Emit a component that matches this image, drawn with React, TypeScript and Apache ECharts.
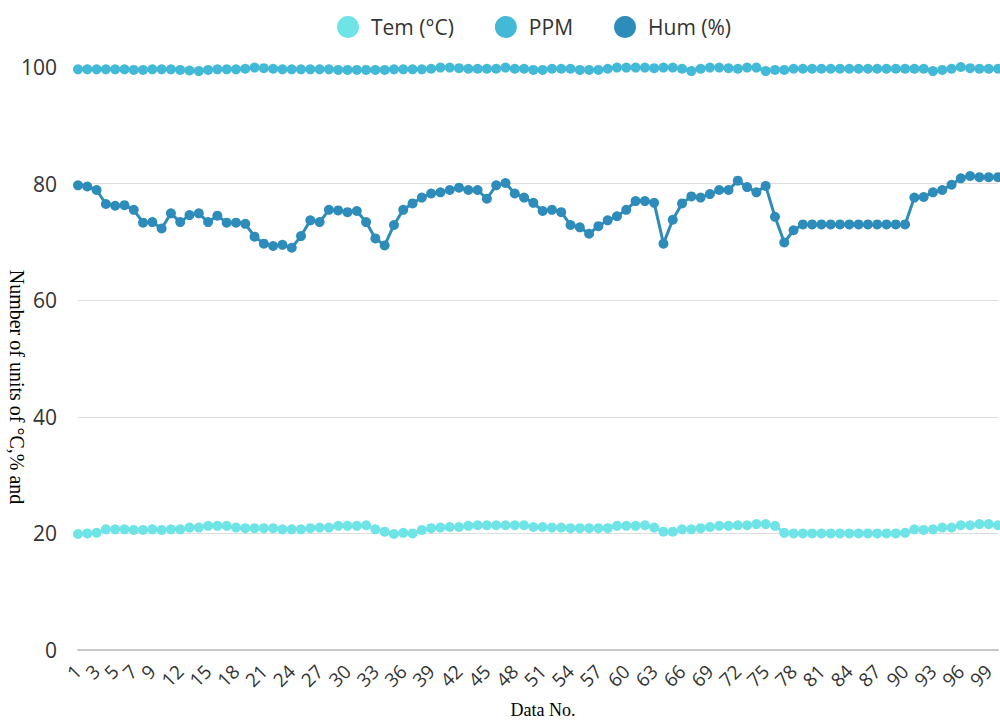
import React, { useEffect, useRef } from "react";
import * as echarts from "echarts";

const categories = [
  "1","2","3","4","5","6","7","8","9","10","11","12","13","14","15","16","17","18","19","20",
  "21","22","23","24","25","26","27","28","29","30","31","32","33","34","35","36","37","38","39","40",
  "41","42","43","44","45","46","47","48","49","50","51","52","53","54","55","56","57","58","59","60",
  "61","62","63","64","65","66","67","68","69","70","71","72","73","74","75","76","77","78","79","80",
  "81","82","83","84","85","86","87","88","89","90","91","92","93","94","95","96","97","98","99","100",
];

const shownLabels = [
  "1","3","5","7","9","12","15","18","21","24","27","30","33","36","39","42","45","48","51","54",
  "57","60","63","66","69","72","75","78","81","84","87","90","93","96","99",
];

const yTicks = [0, 20, 40, 60, 80, 100];

const tem = [
  19.9, 20.0, 20.1, 20.7, 20.7, 20.7, 20.6, 20.6, 20.7, 20.6,
  20.7, 20.7, 21.0, 21.0, 21.3, 21.3, 21.3, 21.0, 20.9, 20.9,
  20.9, 20.9, 20.7, 20.7, 20.7, 20.9, 21.0, 21.0, 21.3, 21.3,
  21.3, 21.4, 20.7, 20.3, 19.9, 20.1, 20.0, 20.6, 20.9, 21.0,
  21.1, 21.1, 21.3, 21.4, 21.4, 21.4, 21.4, 21.4, 21.4, 21.1,
  21.1, 21.0, 21.0, 20.9, 20.9, 20.9, 20.9, 20.9, 21.3, 21.3,
  21.3, 21.4, 21.0, 20.3, 20.3, 20.7, 20.7, 20.9, 21.1, 21.3,
  21.3, 21.4, 21.4, 21.6, 21.6, 21.3, 20.1, 20.0, 20.0, 20.0,
  20.0, 20.0, 20.0, 20.0, 20.0, 20.0, 20.0, 20.0, 20.0, 20.1,
  20.7, 20.6, 20.7, 21.0, 21.0, 21.4, 21.4, 21.6, 21.6, 21.4,
];

const ppm = [
  99.6, 99.6, 99.6, 99.6, 99.6, 99.6, 99.5, 99.5, 99.6, 99.6,
  99.6, 99.5, 99.4, 99.3, 99.5, 99.6, 99.6, 99.6, 99.7, 99.9,
  99.8, 99.7, 99.6, 99.6, 99.6, 99.6, 99.6, 99.6, 99.5, 99.5,
  99.5, 99.5, 99.5, 99.5, 99.6, 99.6, 99.6, 99.6, 99.7, 99.9,
  99.9, 99.8, 99.7, 99.7, 99.7, 99.7, 99.9, 99.7, 99.7, 99.5,
  99.5, 99.7, 99.7, 99.7, 99.5, 99.5, 99.5, 99.7, 99.9, 99.9,
  99.9, 99.9, 99.8, 99.9, 99.9, 99.7, 99.3, 99.7, 99.9, 99.9,
  99.8, 99.7, 99.9, 99.9, 99.3, 99.5, 99.5, 99.7, 99.7, 99.7,
  99.7, 99.7, 99.7, 99.7, 99.7, 99.7, 99.7, 99.7, 99.7, 99.7,
  99.7, 99.7, 99.3, 99.5, 99.7, 100.0, 99.8, 99.7, 99.7, 99.7,
];

const hum = [
  79.7, 79.5, 78.9, 76.5, 76.2, 76.3, 75.5, 73.3, 73.4, 72.3,
  74.9, 73.4, 74.6, 74.9, 73.4, 74.5, 73.3, 73.3, 73.1, 70.9,
  69.7, 69.3, 69.5, 69.0, 71.0, 73.7, 73.4, 75.5, 75.4, 75.1,
  75.3, 73.4, 70.6, 69.4, 72.9, 75.5, 76.6, 77.6, 78.3, 78.5,
  78.9, 79.3, 78.9, 78.9, 77.4, 79.7, 80.1, 78.3, 77.6, 76.7,
  75.3, 75.5, 75.1, 72.9, 72.5, 71.4, 72.7, 73.7, 74.4, 75.5,
  77.0, 77.0, 76.7, 69.7, 73.8, 76.6, 77.8, 77.6, 78.2, 78.9,
  78.9, 80.5, 79.4, 78.5, 79.6, 74.3, 69.9, 72.0, 73.0, 73.0,
  73.0, 73.0, 73.0, 73.0, 73.0, 73.0, 73.0, 73.0, 73.0, 73.0,
  77.6, 77.7, 78.5, 78.9, 79.8, 80.9, 81.3, 81.1, 81.1, 81.1,
];

const seriesNames = ["Tem (°C)", "PPM", "Hum (%)"];
const seriesColors = ["#6ee4e7", "#42b9d6", "#2e8cbb"];
const xTitle = "Data No.";
const yTitle = "Number of units of °C,% and";

export default function App() {
  const ref = useRef<HTMLDivElement>(null);
  useEffect(() => {
    if (!ref.current) return;
    const chart = echarts.init(ref.current, null, { renderer: "svg" });
    const values = [tem, ppm, hum];
    chart.setOption({
      animation: false,
      backgroundColor: "#ffffff",
      legend: {
        left: 332,
        top: 11,
        itemWidth: 36,
        itemHeight: 22,
        itemGap: 41,
        icon: "circle",
        textStyle: { fontFamily: "Open Sans", fontSize: 21, color: "#333" },
        data: seriesNames,
      },
      grid: { left: 78, right: 2, top: 67, bottom: 72, containLabel: false },
      xAxis: {
        type: "category",
        data: categories,
        boundaryGap: false,
        axisLine: { show: true, lineStyle: { color: "#c8c8c8", width: 2 } },
        axisTick: { show: false },
        splitLine: { show: false },
        axisLabel: {
          rotate: 45,
          margin: 18,
          fontFamily: "Open Sans",
          fontSize: 19,
          color: "#333",
          interval: (_i: number, v: string) => shownLabels.includes(v),
        },
      },
      yAxis: {
        type: "value",
        min: yTicks[0],
        max: yTicks[yTicks.length - 1],
        interval: 20,
        axisLine: { show: false },
        axisTick: { show: false },
        splitLine: { show: true, lineStyle: { color: "#dddddd", width: 1 } },
        axisLabel: { margin: 21, fontFamily: "Open Sans", fontSize: 21, color: "#333" },
      },
      graphic: [
        {
          type: "text",
          x: 17,
          y: 387,
          rotation: -Math.PI / 2,
          style: {
            text: yTitle,
            fontFamily: "Liberation Serif",
            fontSize: 20,
            fill: "#000",
            align: "center",
            verticalAlign: "middle",
          },
        },
        {
          type: "text",
          x: 543,
          y: 710,
          style: {
            text: xTitle,
            fontFamily: "Liberation Serif",
            fontSize: 18,
            fill: "#000",
            align: "center",
            verticalAlign: "middle",
          },
        },
      ],
      series: seriesNames.map((name, k) => ({
        name,
        type: "line",
        data: values[k],
        symbol: "circle",
        symbolSize: 10,
        showSymbol: true,
        showAllSymbol: true,
        color: seriesColors[k],
        lineStyle: { width: 3, color: seriesColors[k] },
        itemStyle: { color: seriesColors[k] },
        emphasis: { disabled: true },
      })),
    });
    return () => chart.dispose();
  }, []);
  return (
    <div
      ref={ref}
      style={{ position: "absolute", left: 0, top: 0, width: 1000, height: 722 }}
    />
  );
}
